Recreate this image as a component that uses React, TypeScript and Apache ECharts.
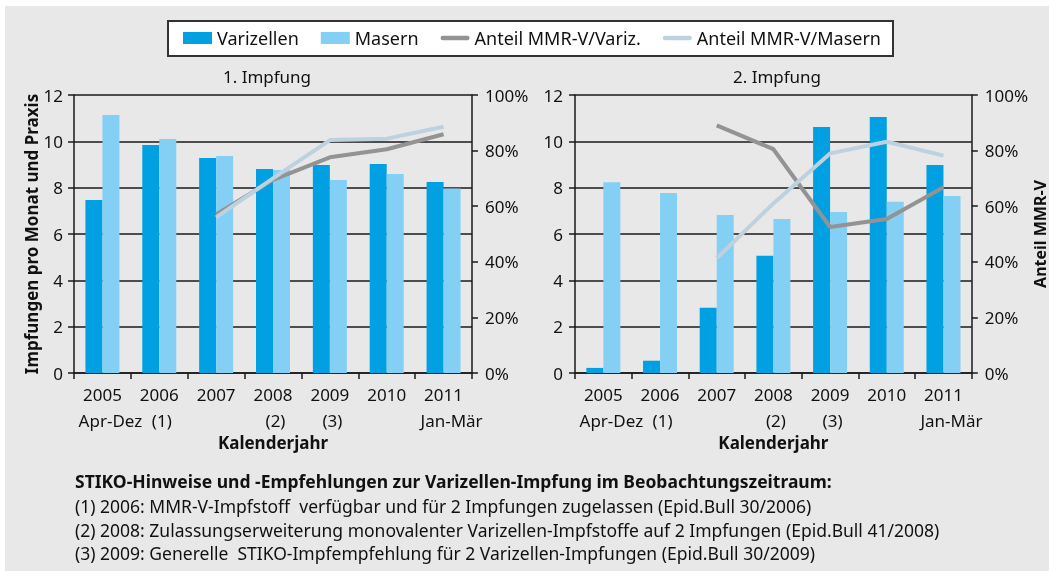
import React, { useEffect, useRef } from "react";
import * as echarts from "echarts";

const categories = ["2005\nApr-Dez", "2006\n(1)", "2007", "2008\n(2)", "2009\n(3)", "2010", "2011\nJan-Mär"];
const varizellen1 = [7.47, 9.84, 9.28, 8.81, 8.98, 9.02, 8.25];
const masern1 = [11.14, 10.1, 9.37, 8.76, 8.33, 8.59, 7.96];
const anteilVariz1 = [null, null, 57, 69.5, 77.6, 80.5, 85.9];
const anteilMasern1 = [null, null, 56, 70, 83.8, 84.3, 88.6];
const varizellen2 = [0.22, 0.53, 2.82, 5.06, 10.62, 11.05, 8.98];
const masern2 = [8.23, 7.77, 6.82, 6.65, 6.95, 7.39, 7.64];
const anteilVariz2 = [null, null, 89.1, 80.5, 52.5, 55.4, 66.8];
const anteilMasern2 = [null, null, 41.3, 61, 79, 83.2, 78.2];
const legendNames = ["Varizellen", "Masern", "Anteil MMR-V/Variz.", "Anteil MMR-V/Masern"];
const titles = ["1. Impfung", "2. Impfung"];
const footnotes = [
  "STIKO-Hinweise und -Empfehlungen zur Varizellen-Impfung im Beobachtungszeitraum:",
  "(1) 2006: MMR-V-Impfstoff  verfügbar und für 2 Impfungen zugelassen (Epid.Bull 30/2006)",
  "(2) 2008: Zulassungserweiterung monovalenter Varizellen-Impfstoffe auf 2 Impfungen (Epid.Bull 41/2008)",
  "(3) 2009: Generelle  STIKO-Impfempfehlung für 2 Varizellen-Impfungen (Epid.Bull 30/2009)",
];

const FONT = "'Noto Sans', 'Open Sans', sans-serif";
const C_VAR = "#00a0e2";
const C_MAS = "#84d0f5";
const C_LVAR = "#939393";
const C_LMAS = "#bdd1df";
const AX = "#1a1a1a";
const LINE_ICON = "path://M2.5,0 L30.5,0 A2.5,2.5 0 0 1 30.5,5 L2.5,5 A2.5,2.5 0 0 1 2.5,0 Z";

export default function App() {
  const ref = useRef<HTMLDivElement>(null);
  useEffect(() => {
    if (!ref.current) return;
    const chart = echarts.init(ref.current, undefined, { renderer: "svg" });

    const labelFormatter = (v: string) => {
      const parts = v.split("\n");
      if (parts.length < 2) return `{a|${parts[0]}}`;
      const style = parts[1].length > 3 ? "w" : "n";
      return `{a|${parts[0]}}\n{${style}|${parts[1]}}`;
    };
    const richBase = { fontFamily: FONT, fontSize: 17, color: "#111", lineHeight: 26 };

    const xAxisBase = (gi: number) => ({
      type: "category",
      gridIndex: gi,
      data: categories,
      axisLine: { show: true, lineStyle: { color: AX, width: 1.5 } },
      axisTick: { show: true, length: 6, lineStyle: { color: AX, width: 1.5 } },
      axisLabel: {
        fontFamily: FONT,
        fontSize: 17,
        color: "#111",
        margin: 8,
        lineHeight: 26,
        interval: 0,
        formatter: labelFormatter,
        rich: {
          a: { ...richBase },
          w: { ...richBase, padding: [0, 0, 0, 16] },
          n: { ...richBase, padding: [0, 0, 0, 5] },
        },
      },
      name: "Kalenderjahr",
      nameLocation: "middle",
      nameGap: 58,
      nameTextStyle: { fontFamily: FONT, fontSize: 17, fontWeight: "bold", color: "#111" },
    });
    const yLeft = (gi: number, name: string, margin: number) => ({
      type: "value",
      gridIndex: gi,
      position: "left",
      min: 0,
      max: 12,
      interval: 2,
      axisLine: { show: true, lineStyle: { color: AX, width: 1.5 } },
      axisTick: { show: true, length: 6, lineStyle: { color: AX, width: 1.5 } },
      splitLine: { show: true, lineStyle: { color: AX, width: 1.5 } },
      axisLabel: { fontFamily: FONT, fontSize: 17, color: "#111", margin },
      name,
      nameLocation: "middle",
      nameGap: 33,
      nameTextStyle: { fontFamily: FONT, fontSize: 17, fontWeight: "bold", color: "#111" },
    });
    const yRight = (gi: number, name: string) => ({
      type: "value",
      gridIndex: gi,
      position: "right",
      min: 0,
      max: 100,
      interval: 20,
      axisLine: { show: true, lineStyle: { color: AX, width: 1.5 } },
      axisTick: { show: true, length: 6, lineStyle: { color: AX, width: 1.5 } },
      splitLine: { show: false },
      axisLabel: { fontFamily: FONT, fontSize: 17, color: "#111", margin: 13, formatter: "{value}%" },
      name,
      nameLocation: "middle",
      nameGap: 50,
      nameTextStyle: { fontFamily: FONT, fontSize: 16, fontWeight: "bold", color: "#111" },
    });
    const bar = (name: string, color: string, data: number[], gi: number) => ({
      type: "bar",
      name,
      xAxisIndex: gi,
      yAxisIndex: gi * 2,
      data,
      barWidth: 17,
      barGap: "0%",
      itemStyle: { color },
    });
    const line = (name: string, color: string, data: (number | null)[], gi: number) => ({
      type: "line",
      name,
      xAxisIndex: gi,
      yAxisIndex: gi * 2 + 1,
      data,
      symbol: "none",
      lineStyle: { color, width: 4 },
      itemStyle: { color },
    });

    const option: any = {
      animation: false,
      textStyle: { fontFamily: FONT },
      title: [
        { text: titles[0], left: 262, top: 63, textAlign: "center", textStyle: { fontFamily: FONT, fontSize: 17, fontWeight: "normal", color: "#111" } },
        { text: titles[1], left: 772, top: 63, textAlign: "center", textStyle: { fontFamily: FONT, fontSize: 17, fontWeight: "normal", color: "#111" } },
      ],
      legend: {
        data: [
          { name: legendNames[0], icon: "rect" },
          { name: legendNames[1], icon: "rect" },
          { name: legendNames[2], icon: LINE_ICON },
          { name: legendNames[3], icon: LINE_ICON },
        ],
        left: 183,
        top: 29,
        padding: 0,
        itemWidth: 29,
        itemHeight: 12,
        itemGap: 22,
        textStyle: { fontFamily: FONT, fontSize: 18, color: "#111" },
      },
      grid: [
        { left: 74, right: 577, top: 95, bottom: 198 },
        { left: 575, right: 75, top: 95, bottom: 198 },
      ],
      xAxis: [xAxisBase(0), xAxisBase(1)],
      yAxis: [
        yLeft(0, "Impfungen pro Monat und Praxis", 11),
        yRight(0, ""),
        yLeft(1, "", 12),
        yRight(1, "Anteil MMR-V"),
      ],
      series: [
        bar(legendNames[0], C_VAR, varizellen1, 0),
        bar(legendNames[1], C_MAS, masern1, 0),
        line(legendNames[2], C_LVAR, anteilVariz1, 0),
        line(legendNames[3], C_LMAS, anteilMasern1, 0),
        bar(legendNames[0], C_VAR, varizellen2, 1),
        bar(legendNames[1], C_MAS, masern2, 1),
        line(legendNames[2], C_LVAR, anteilVariz2, 1),
        line(legendNames[3], C_LMAS, anteilMasern2, 1),
      ],
      graphic: [
        { type: "rect", z: -10, silent: true, shape: { x: 5, y: 6, width: 1044, height: 565 }, style: { fill: "#e8e8e8" } },
        { type: "rect", z: 1, silent: true, shape: { x: 168, y: 21, width: 725, height: 35 }, style: { fill: "#ffffff", stroke: "#333", lineWidth: 2 } },
        ...footnotes.map((t, i) => ({
          type: "text",
          z: 5,
          x: 75,
          y: [481, 506, 530, 553][i],
          style: {
            text: t,
            fontFamily: FONT,
            fontSize: 17.5,
            fontWeight: i === 0 ? "bold" : "normal",
            fill: "#111",
            textVerticalAlign: "middle",
          },
        })),
      ],
    };
    chart.setOption(option);
    return () => chart.dispose();
  }, []);
  return <div ref={ref} style={{ position: "fixed", left: 0, top: 0, width: 1049, height: 571 }} />;
}
